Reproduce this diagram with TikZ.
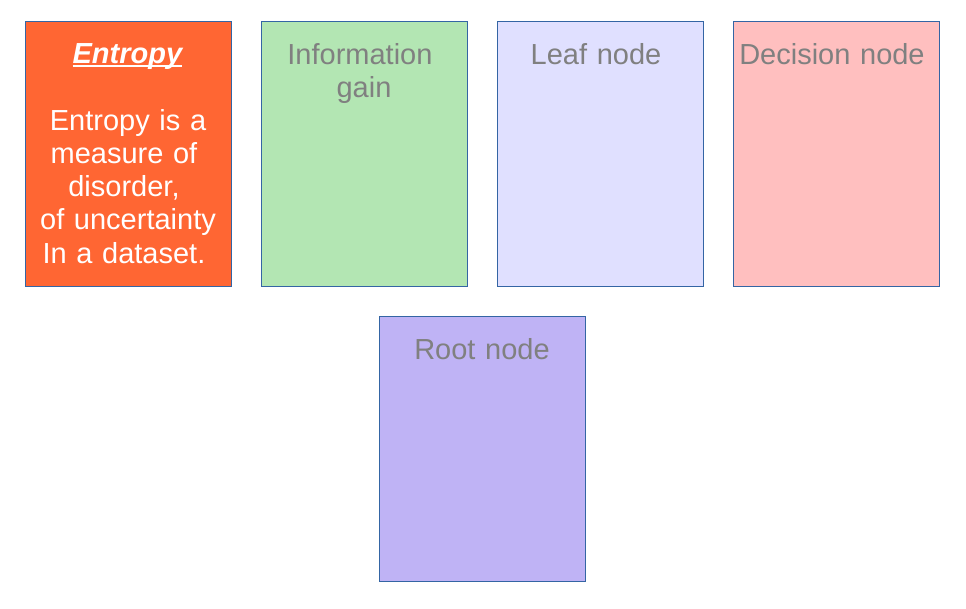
\documentclass[tikz,border=0pt]{standalone}
\usepackage{fontspec}
\setmainfont{Liberation Sans}
\usetikzlibrary{positioning}
\definecolor{bordc}{HTML}{3465A4}
\definecolor{txtg}{HTML}{808080}
\definecolor{fOrange}{HTML}{FF6633}
\definecolor{fGreen}{HTML}{B3E6B3}
\definecolor{fLav}{HTML}{E0E0FF}
\definecolor{fPink}{HTML}{FFBFBF}
\definecolor{fPurple}{HTML}{BFB3F5}
\newlength\myulw
\newcommand\myul[1]{\settowidth\myulw{#1}\makebox[0pt][l]{\rule[-3.5pt]{\myulw}{1.6pt}}#1}
\newcommand\tsp{\rule{0.278em}{0pt}}
\tikzset{
  card/.style={draw=bordc, line width=0.9pt, rectangle, minimum width=206pt, minimum height=265pt, inner sep=0pt, anchor=north west},
  lbl/.style={text=txtg, font=\fontsize{29}{33.3}\selectfont, align=center, text width=200pt, inner sep=0pt, anchor=base},
  wlbl/.style={lbl, text=white}
}
\begin{document}
\begin{tikzpicture}[x=1pt,y=-1pt]
\useasboundingbox[fill=white] (0,0) rectangle (966,608);
\node[card, fill=fOrange] (b1) at (25,21) {};
\node[card, fill=fGreen] (b2) at (261,21) {};
\node[card, fill=fLav] (b3) at (497,21) {};
\node[card, fill=fPink] (b4) at (733,21) {};
\node[card, fill=fPurple] (b5) at (379,316) {};
\node[wlbl] (t1) at (128,63) {\textbf{\textit{\myul{Entropy}}}};
\node[wlbl] (t1b) at (128,130) {Entropy is a\\measure of\tsp\\disorder,\tsp\\of uncertainty\\In a dataset.\tsp};
\node[lbl] (t2) at (364,64) {Information\tsp\\gain};
\node[lbl] (t3) at (600,64) {Leaf node\tsp};
\node[lbl] (t4) at (836,64) {Decision node\tsp};
\node[lbl] (t5) at (482,359) {Root node};
\end{tikzpicture}
\end{document}
